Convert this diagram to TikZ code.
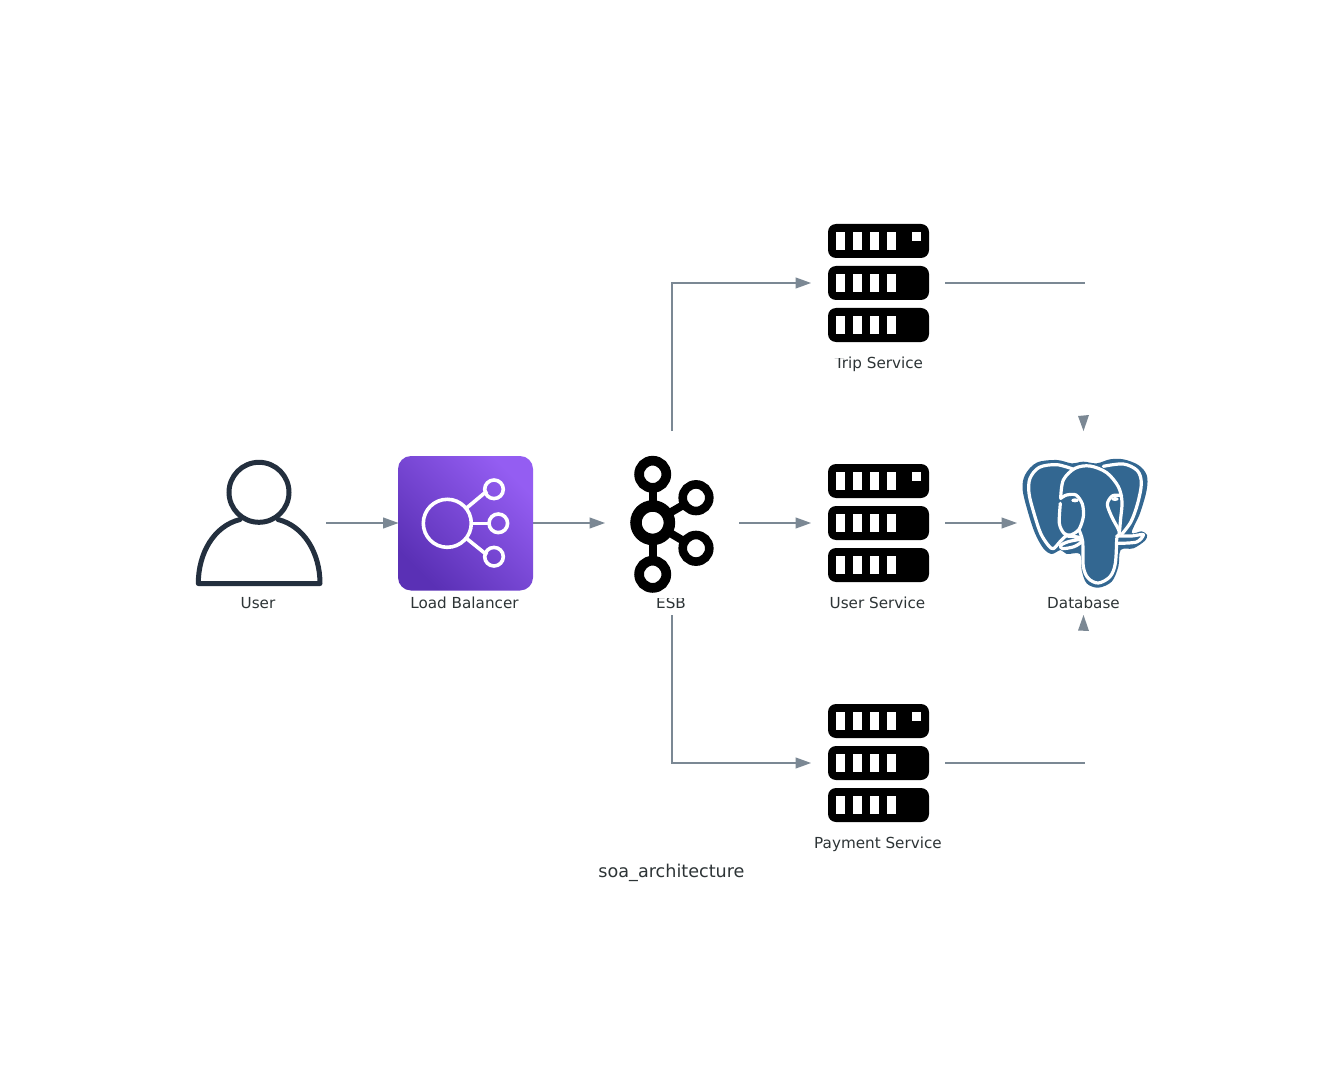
\documentclass[tikz,border=0pt]{standalone}
\usepackage{fontspec}
\setmainfont{DejaVu Sans}
\usetikzlibrary{arrows.meta}
\definecolor{edgegray}{HTML}{7B8894}
\definecolor{labelink}{HTML}{2D3436}
\definecolor{userink}{HTML}{232F3E}
\definecolor{pgblue}{HTML}{336791}
\definecolor{lbdark}{HTML}{5A30B5}
\definecolor{lblight}{HTML}{945DF2}
\tikzset{
  slot/.style={minimum width=134pt,minimum height=184pt,inner sep=0pt,outer sep=0pt},
  caption/.style={font=\fontsize{15.2}{16}\selectfont,text=labelink,inner sep=0pt,anchor=base},
  link/.style={draw=edgegray,line width=1.1pt},
  flow/.style={link,-{Stealth[length=15.5pt,width=11pt,inset=0pt]}},
  tipmark/.style={fill=edgegray,draw=none},
  ring/.style={draw=black,fill=none},
}
\newcommand{\serverglyph}[1]{%
  \begin{scope}[shift={(#1)}]
    \foreach \yy in {-59,-17,25}{
      \fill[black,rounded corners=8pt] (-50.5,\yy) rectangle (50.5,\yy+34);
      \foreach \xx in {-42.2,-25.4,-8.9,8.1}{
        \fill[white] (\xx,\yy+8) rectangle (\xx+9,\yy+26);
      }
    }
    \fill[white] (33,-51) rectangle (42.4,-41.7);
  \end{scope}}
\begin{document}
\begin{tikzpicture}[x=1pt,y=-1pt]
\useasboundingbox (0,0) rectangle (1344,1083);
\fill[white] (0,0) rectangle (1344,1083);
% layout slots
\node[slot] (user) at (259,523) {};
\node[slot] (lb) at (465.5,523) {};
\node[slot] (esb) at (672,523) {};
\node[slot] (trip) at (878,283) {};
\node[slot] (usvc) at (878,523) {};
\node[slot] (pay) at (878,763) {};
\node[slot] (db) at (1084,523) {};
\coordinate (tripend) at (1085,283);
\coordinate (payend) at (1085,763);
% connectors
\draw[flow] (user.east) -- (lb.west);
\draw[flow] (lb.east) -- (esb.west);
\draw[flow] (esb.east) -- (usvc.west);
\draw[flow] (usvc.east) -- (db.west);
\draw[flow] (esb.north) |- (trip.west);
\draw[flow] (esb.south) |- (pay.west);
\draw[link] (trip.east) -- (tripend);
\draw[link] (pay.east) -- (payend);
\fill[tipmark] (db.north) ++(-0.5,0) -- ++(-5.5,-15) -- ++(11,-1) -- cycle;
\fill[tipmark] (db.south) ++(-0.5,0) -- ++(-5.5,15.5) -- ++(11,0.5) -- cycle;
% labels
\node[caption] (userlabel) at (258,608.6) {User};
\node[caption] (lblabel) at (464.5,608.6) {Load Balancer};
\node[caption] (esblabel) at (671,608.6) {ESB};
\node[caption] (triplabel) at (879,368.6) {Trip Service};
\node[caption] (usvclabel) at (877.5,608.6) {User Service};
\node[caption] (paylabel) at (878,848.6) {Payment Service};
\node[caption] (dblabel) at (1083.5,608.6) {Database};
\node[font=\fontsize{17.6}{19}\selectfont,text=labelink,inner sep=0pt] (title) at (671.5,872.5) {soa\_architecture};
% the icons hide the tops of two labels
\fill[white] (640,590) rectangle (700,598.1);
\fill[white] (830,345) rectangle (847,358.1);
% user icon
\draw[userink,line width=5pt] (259,492.3) circle (30);
\draw[userink,line width=5pt,line join=round,line cap=round] (240,519.5) .. controls (214,526) and (198.3,553) .. (198.3,583.5) -- (320,583.5) .. controls (320,553) and (304,526) .. (278,519.5);
% load balancer icon
\shade[bottom color=lbdark,top color=lblight,shading angle=-45,rounded corners=13pt] (398,456) rectangle (533,590.5);
\begin{scope}[draw=white,line width=3.6pt]
  \draw (447.3,523.3) circle (24);
  \draw (494,489.3) circle (9.3);
  \draw (498.3,523.3) circle (9.3);
  \draw (494,556.7) circle (9.3);
  \draw (466,508.5) -- (487,491);
  \draw (471,523.3) -- (489,523.3);
  \draw (466,538) -- (487,555);
\end{scope}
% kafka icon
\begin{scope}[line width=8pt,draw=black]
  \draw (652.7,474) -- (652.7,574);
  \draw (652.7,522.7) -- (696,497.7);
  \draw (652.7,522.7) -- (696,548.3);
\end{scope}
\foreach \cx/\cy/\rr/\ww in {652.7/474.3/13.6/9.7,652.7/522.7/16.7/11.5,696/497.7/13.3/8.6,696/548.3/13.3/8.6,652.7/574.3/13.6/9.7}{
  \fill[white] (\cx,\cy) circle (\rr);
  \draw[ring,line width=\ww pt] (\cx,\cy) circle (\rr);
}
% server icons
\serverglyph{878.5,283}
\serverglyph{878.5,523}
\serverglyph{878.5,763}
% elephant
\begin{scope}[shift={(1000,400)},x=0.33333pt,y=-0.33333pt]
  \fill[pgblue] plot[smooth cycle,tension=0.55] coordinates {(215,190)(170,180)(110,188)(75,225)(68,270)(85,340)(105,400)(130,445)(155,462)(182,450)(200,462)(240,462)(245,510)(260,550)(295,563)(335,545)(355,500)(362,450)(400,445)(435,422)(441,405)(425,394)(395,398)(420,340)(440,270)(440,225)(415,195)(370,178)(330,178)(290,190)(250,185)};
  \begin{scope}[draw=white,line width=3.2pt,line cap=round,line join=round]
    \draw plot[smooth,tension=0.55] coordinates {(218,207)(170,194)(118,202)(90,235)(87,280)(102,340)(122,400)(145,436)(160,446)(180,425)(197,408)};
    \draw plot[smooth,tension=0.55] coordinates {(182,295)(190,240)(225,205)(270,198)(320,218)(355,260)(366,305)(362,355)(358,400)};
    \draw plot[smooth,tension=0.55] coordinates {(310,199)(370,192)(412,212)(424,250)(413,310)(393,365)(365,403)};
    \draw plot[smooth,tension=0.5] coordinates {(182,295)(200,285)(228,285)(247,312)(250,350)(237,388)(212,405)(192,400)(178,370)(181,310)};
    \draw plot[smooth,tension=0.55] coordinates {(237,390)(248,425)(250,500)(265,535)(295,549)(330,530)(346,490)(350,415)};
    \draw plot[smooth,tension=0.5] coordinates {(365,287)(338,287)(322,312)(335,350)(358,395)(350,412)};
    \draw plot[smooth,tension=0.5] coordinates {(350,408)(395,408)(430,404)(410,426)(355,430)};
    \draw plot[smooth,tension=0.5] coordinates {(197,408)(238,412)(245,425)(222,440)(188,446)(182,436)(205,425)(240,418)};
  \end{scope}
  \fill[white] (225,301) ellipse (11 and 6);
  \fill[white] (345,297) ellipse (11 and 6);
\end{scope}
\end{tikzpicture}
\end{document}
